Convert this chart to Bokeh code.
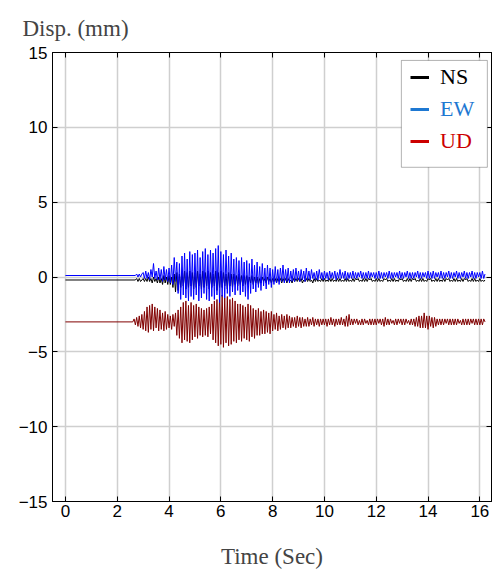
import numpy as np
from bokeh.plotting import figure
from bokeh.models import (Range1d, LinearAxis, Legend, LegendItem, BoxAnnotation,
                          FixedTicker)
from bokeh.embed import file_html
from bokeh.resources import INLINE

# ---------------- data ----------------
step = 0.05
ns_start, ew_start, ud_start = 2.70, 2.70, 2.60
ns_rest, ew_rest, ud_rest = -0.2, 0.1, -3.0

ew_vals = [
    0.1, 0.2, 0.0, 0.2, 0.0, 0.2,
    0.3, -0.1, 0.4, -0.1, 0.3, -0.2, 0.5, 0.0, 0.9, -0.1, 0.4, -0.2, 0.6, -0.2, 0.5, -0.3, 0.7, -0.2, 0.5, -0.3,
    0.6, -0.4, 0.8, -0.5, 1.3, -0.3, 1.0, -1.1, 0.9, -1.5, 1.4, -1.2, 1.6, -1.4, 1.2, -1.6, 1.7, -1.3, 1.5, -1.5,
    1.6, -1.2, 1.8, -1.6, 1.3, -1.4, 1.7, -1.1, 1.9, -1.5, 1.5, -1.6, 1.8, -1.3, 1.6, -1.5, 1.9, -1.2, 2.1, -1.7,
    1.7, -1.3, 1.5, -1.4, 1.8, -1.1, 1.4, -1.3, 1.6, -1.0, 1.2, -1.2, 1.3, -0.9, 1.1, -1.2, 1.3, -1.0, 1.0, -1.3,
    1.1, -1.5, 0.9, -1.1, 1.2, -0.8, 0.8, -1.0, 1.0, -0.7, 0.7, -0.9, 0.9, -0.6, 0.6, -0.8, 0.8, -0.5, 0.6, -0.7,
    0.5, -0.5, 0.7, -0.4, 0.5, -0.5, 0.6, -0.3, 0.8, -0.4, 0.5, -0.3, 0.6, -0.4, 0.4, -0.3, 0.5, -0.3, 0.6, -0.2,
    0.4, -0.3, 0.5, -0.2, 0.4, -0.3, 0.6, -0.2, 0.4, -0.2, 0.5, -0.1, 0.3, -0.2, 0.4, -0.2, 0.5, -0.1, 0.3, -0.2,
    0.4, -0.1, 0.3, -0.2, 0.4, -0.1, 0.3, -0.1, 0.4, -0.2, 0.3, -0.1, 0.5, -0.1, 0.3, -0.1, 0.4, -0.2, 0.3, -0.1,
    0.3, -0.1, 0.4, -0.1, 0.3, -0.1, 0.3, 0.0, 0.4, -0.1, 0.3, -0.1, 0.3, -0.1, 0.4, -0.1, 0.3, 0.0, 0.3, -0.1,
    0.3, -0.1, 0.4, -0.1, 0.3, -0.1, 0.3, 0.0, 0.3, -0.1, 0.4, -0.1, 0.3, -0.1, 0.3, 0.0, 0.3, -0.1, 0.4, -0.1,
    0.3, -0.1, 0.3, 0.0, 0.4, -0.1, 0.3, -0.1, 0.3, -0.1, 0.3, 0.0, 0.4, -0.1, 0.3, -0.1, 0.3, 0.0, 0.3, -0.1,
    0.4, -0.1, 0.3, -0.1, 0.4, -0.1, 0.3, 0.0, 0.3, -0.1, 0.4, -0.1, 0.3, -0.1, 0.3, 0.0, 0.4, -0.1, 0.3, -0.1,
    0.3, 0.0, 0.4, -0.1, 0.3, -0.1, 0.3, 0.0, 0.4, -0.1, 0.3, -0.1, 0.3, 0.0, 0.4, -0.1, 0.3, -0.1, 0.3, 0.0,
    0.3, -0.1, 0.4, -0.1, 0.2,
]

ns_vals = [
    -0.2, -0.1, -0.3, -0.1, -0.3, -0.2,
    -0.1, -0.3, -0.1, -0.3, 0.0, -0.3, -0.1, -0.4, 0.0, -0.3, -0.1, -0.4, 0.0, -0.4, -0.1, -0.5, 0.1, -0.4, 0.0, -0.5,
    0.1, -0.5, 0.0, -0.7, 0.2, -1.0, 0.3, -0.9, 0.2, -0.7, 0.3, -0.6, 0.4, -0.8, 0.3, -0.7, 0.4, -0.6, 0.3, -0.8,
    0.3, -0.7, 0.4, -0.6, 0.2, -0.8, 0.4, -0.7, 0.3, -0.6, 0.4, -0.8, 0.3, -0.7, 0.2, -0.6, 0.4, -0.9, 0.3, -0.7,
    0.4, -0.7, 0.3, -0.6, 0.2, -0.8, 0.3, -0.6, 0.2, -0.7, 0.2, -0.5, 0.1, -0.6, 0.2, -0.5, 0.1, -0.6, 0.1, -0.5,
    0.1, -0.5, 0.0, -0.4, 0.1, -0.5, 0.0, -0.4, 0.0, -0.5, -0.1, -0.4, 0.0, -0.3, -0.1, -0.4, 0.0, -0.3, -0.1, -0.4,
    -0.1, -0.3, -0.1, -0.4, -0.1, -0.3, -0.1, -0.4, -0.1, -0.3, -0.1, -0.4, -0.1, -0.3, -0.2, -0.4, -0.1, -0.3, -0.1, -0.3,
    -0.1, -0.3, -0.1, -0.4, -0.2, -0.3, -0.1, -0.3, -0.1, -0.3, -0.2, -0.4, -0.1, -0.3, -0.1, -0.3, -0.2, -0.3, -0.1, -0.3,
    -0.1, -0.3, -0.2, -0.3, -0.1, -0.3, -0.1, -0.3, -0.2, -0.3, -0.1, -0.3, -0.1, -0.3, -0.2, -0.3, -0.1, -0.3, -0.1, -0.3,
    -0.2, -0.3, -0.1, -0.3, -0.1, -0.2, -0.1, -0.3, -0.2, -0.3, -0.1, -0.3, -0.1, -0.3, -0.1, -0.2, -0.1, -0.3, -0.2, -0.3,
    -0.1, -0.3, -0.1, -0.3, -0.2, -0.3, -0.1, -0.2, -0.1, -0.3, -0.2, -0.3, -0.1, -0.3, -0.1, -0.3, -0.2, -0.3, -0.1, -0.2,
    -0.1, -0.3, -0.2, -0.3, -0.1, -0.3, -0.1, -0.3, -0.1, -0.2, -0.1, -0.3, -0.2, -0.3, -0.1, -0.3, -0.1, -0.3, -0.2, -0.3,
    -0.1, -0.2, -0.1, -0.3, -0.2, -0.3, -0.1, -0.3, -0.1, -0.3, -0.2, -0.3, -0.1, -0.3, -0.1, -0.2, -0.1, -0.3, -0.2, -0.3,
    -0.1, -0.3, -0.1, -0.3, -0.2, -0.3, -0.1, -0.3, -0.1, -0.2, -0.1, -0.3, -0.2, -0.3, -0.1, -0.3, -0.1, -0.3, -0.2, -0.3,
    -0.1, -0.3, -0.2, -0.3, -0.2,
]

ud_vals = [
    -3.0, -2.8, -3.2, -2.7, -3.3, -2.6, -3.4, -2.5,
    -3.5, -2.3, -3.6, -2.0, -3.7, -1.9, -3.5, -1.8, -3.6, -2.0, -3.4, -2.1, -3.6, -2.2, -3.5, -2.4, -3.6, -2.3, -3.5, -2.5,
    -3.4, -2.6, -3.5, -2.5, -3.3, -2.4, -3.9, -2.2, -4.1, -2.0, -4.4, -1.7, -4.2, -1.6, -4.3, -1.9, -4.4, -1.7, -4.2, -1.9,
    -4.0, -1.8, -4.1, -2.0, -3.9, -2.1, -4.0, -2.2, -3.9, -2.1, -4.0, -2.0, -3.8, -1.8, -4.2, -1.6, -4.4, -1.5, -4.6, -1.3,
    -4.5, -1.2, -4.7, -1.4, -4.4, -1.3, -4.6, -1.5, -4.5, -1.4, -4.3, -1.6, -4.4, -1.8, -4.2, -1.8, -4.3, -1.9, -4.1, -2.0,
    -4.2, -1.8, -4.3, -1.9, -4.0, -2.1, -4.1, -2.2, -3.9, -2.1, -3.9, -2.3, -3.8, -2.2, -3.8, -2.3, -3.7, -2.4, -3.8, -2.3,
    -3.6, -2.5, -3.5, -2.4, -3.6, -2.6, -3.5, -2.5, -3.4, -2.6, -3.5, -2.5, -3.4, -2.6, -3.4, -2.7, -3.3, -2.7, -3.4, -2.6,
    -3.3, -2.7, -3.4, -2.7, -3.3, -2.8, -3.3, -2.7, -3.3, -2.8, -3.2, -2.7, -3.3, -2.8, -3.2, -2.8, -3.3, -2.8, -3.2, -2.8,
    -3.2, -2.8, -3.3, -2.8, -3.2, -2.7, -3.2, -2.8, -3.3, -2.8, -3.2, -2.8, -3.2, -2.7, -3.2, -2.8, -3.3, -2.6, -3.3, -2.5,
    -3.2, -2.8, -3.2, -2.8, -3.1, -2.8, -3.2, -2.9, -3.2, -2.8, -3.2, -2.8, -3.1, -2.9, -3.2, -2.8, -3.2, -2.8, -3.2, -2.8,
    -3.2, -2.8, -3.1, -2.8, -3.2, -2.8, -3.3, -2.7, -3.2, -2.8, -3.2, -2.8, -3.1, -2.9, -3.2, -2.8, -3.2, -2.8, -3.1, -2.8,
    -3.2, -2.8, -3.2, -2.8, -3.1, -2.9, -3.2, -2.8, -3.2, -2.8, -3.3, -2.7, -3.3, -2.6, -3.4, -2.6, -3.4, -2.4, -3.4, -2.6,
    -3.5, -2.6, -3.3, -2.7, -3.4, -2.7, -3.3, -2.8, -3.2, -2.8, -3.2, -2.8, -3.2, -2.8, -3.1, -2.8, -3.2, -2.8, -3.2, -2.8,
    -3.2, -2.8, -3.2, -2.8, -3.1, -2.9, -3.2, -2.8, -3.2, -2.8, -3.2, -2.8, -3.2, -2.8, -3.1, -2.8, -3.2, -2.8, -3.2, -2.8,
    -3.2, -2.8, -3.2, -2.8, -3.0,
]

x_ticks = [0, 2, 4, 6, 8, 10, 12, 14, 16]
y_ticks = [-15, -10, -5, 0, 5, 10, 15]
y_tick_labels = {-15: "\u221215", -10: "\u221210", -5: "\u22125", 0: "0", 5: "5", 10: "10", 15: "15"}

series = [
    ("NS", ns_start, ns_rest, ns_vals, "black", "black"),
    ("EW", ew_start, ew_rest, ew_vals, "#0000FF", "#1E78D2"),
    ("UD", ud_start, ud_rest, ud_vals, "#800000", "#CC0000"),
]


def build_xy(start, rest, vals):
    xs = [0.0] + [round(start + step * i, 3) for i in range(len(vals))]
    ys = [rest] + list(vals)
    return xs, ys


# ---------------- figure ----------------
p = figure(width=496, height=571, x_range=Range1d(-0.5, 16.45), y_range=Range1d(-15, 15),
           output_backend="svg", toolbar_location=None,
           min_border_left=52, min_border_right=5, min_border_top=52, min_border_bottom=4)
p.background_fill_color = "white"
p.border_fill_color = "white"
p.outline_line_color = "black"
p.outline_line_width = 1

sans = "Liberation Sans"
serif = "Liberation Serif"

for ax in (p.xaxis[0], p.yaxis[0]):
    ax.axis_line_color = "black"
    ax.major_tick_in = 5
    ax.major_tick_out = 0
    ax.minor_tick_line_color = None
    ax.major_label_text_font = sans
    ax.major_label_text_font_size = "17px"
    ax.major_label_text_color = "black"
p.xaxis[0].ticker = FixedTicker(ticks=x_ticks)
p.yaxis[0].ticker = FixedTicker(ticks=y_ticks)
p.yaxis[0].major_label_overrides = y_tick_labels
p.xaxis[0].major_label_standoff = 3
p.yaxis[0].major_label_standoff = 5
p.xaxis[0].axis_label = "Time (Sec)"
p.xaxis[0].axis_label_text_font = serif
p.xaxis[0].axis_label_text_font_style = "normal"
p.xaxis[0].axis_label_text_font_size = "23px"
p.xaxis[0].axis_label_standoff = 24

# box-style axes: ticks only on top and right
top_ax = LinearAxis(ticker=FixedTicker(ticks=x_ticks), major_label_text_font_size="1px",
                    major_label_text_color=None,
                    major_tick_in=5, major_tick_out=0, minor_tick_line_color=None,
                    axis_line_color="black", major_label_standoff=0)
right_ax = LinearAxis(ticker=FixedTicker(ticks=y_ticks), major_label_text_font_size="1px",
                      major_label_text_color=None,
                      major_tick_in=5, major_tick_out=0, minor_tick_line_color=None,
                      axis_line_color="black", major_label_standoff=0)
p.add_layout(top_ax, "above")
p.add_layout(right_ax, "right")

p.xgrid.ticker = FixedTicker(ticks=x_ticks)
p.ygrid.ticker = FixedTicker(ticks=y_ticks)
for g in (p.xgrid[0], p.ygrid[0]):
    g.grid_line_color = "#cfcfcf"
    g.grid_line_width = 1.5

p.title.text = "Disp. (mm)"
p.title.text_font = serif
p.title.text_font_style = "normal"
p.title.text_font_size = "23px"
p.title.align = "left"
p.title.vertical_align = "bottom"
p.title.offset = -30
p.title.standoff = 24

# data lines (UD, NS, then EW on top)
for name in ("UD", "NS", "EW"):
    for s in series:
        if s[0] == name:
            xs, ys = build_xy(s[1], s[2], s[3])
            p.line(xs, ys, line_color=s[4], line_width=1)

# legend
box = BoxAnnotation(left=12.97, right=16.29, top=14.47, bottom=7.33,
                    fill_color="white", fill_alpha=1.0, line_color="black", line_width=1)
p.add_layout(box)

leg_y = {"NS": 411, "EW": 379, "UD": 347}
for name, _, _, _, _, lcol in series:
    r = p.line([np.nan, np.nan], [np.nan, np.nan], line_color=lcol, line_width=3)
    leg = Legend(items=[LegendItem(label=name, renderers=[r])], location=(358, leg_y[name]),
                 border_line_color=None, background_fill_alpha=0, padding=0, margin=0,
                 spacing=0, label_text_font=serif, label_text_font_size="22px",
                 label_text_color=lcol, glyph_width=19, glyph_height=22, label_height=22,
                 label_standoff=11)
    p.add_layout(leg)

open("out.html", "w").write(file_html(p, INLINE))
